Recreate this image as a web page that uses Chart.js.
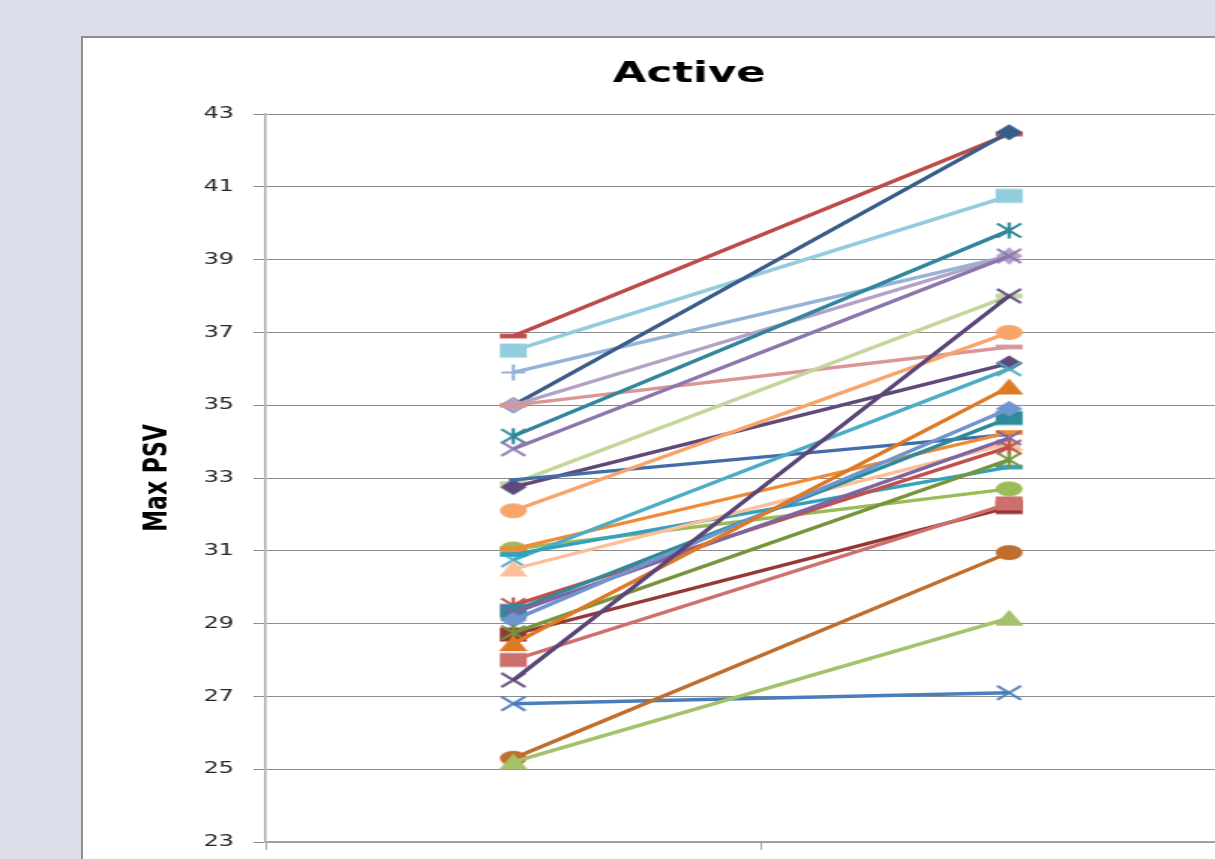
<!DOCTYPE html>
<html>
<head>
<meta charset="utf-8">
<title>Active</title>
<script src="https://cdn.jsdelivr.net/npm/chart.js@4.4.1/dist/chart.umd.min.js"></script>
<style>
  html, body { margin: 0; padding: 0; }
  body { width: 1215px; height: 859px; overflow: hidden; background: #dcdfea; position: relative; }
  #frame { position: absolute; left: 81px; top: 36px; width: 1300px; height: 900px; background: #ffffff;
           border-left: 2px solid #8e8e8e; border-top: 2px solid #8e8e8e; }
  #wrap { position: absolute; left: 84px; top: 39px; width: 807px; height: 830px;
          transform: scaleX(1.5); transform-origin: 0 0; }
</style>
</head>
<body>
<div id="frame"></div>
<div id="wrap"><canvas id="chart" width="807" height="830"></canvas></div>
<script>
// Two measurement occasions, one line per subject
const categories = ['Pre', 'Post'];

const preValues  = [36.9, 36.5, 35.9, 35.0, 35.0, 35.0, 34.15, 33.8, 32.85, 32.75, 32.95, 32.1, 31.05, 31.05, 30.75,
                    30.9, 30.5, 29.5, 29.35, 29.3, 29.1, 28.7, 28.75, 28.45, 28.0, 27.45, 26.8, 25.3, 25.2];
const postValues = [42.45, 40.75, 39.1, 42.5, 39.1, 36.6, 39.8, 39.1, 38.0, 36.15, 34.2, 37.0, 32.7, 34.25, 36.0,
                    33.3, 33.95, 33.85, 34.65, 34.1, 34.9, 32.2, 33.5, 35.5, 32.3, 38.0, 27.1, 30.95, 29.15];

const yTickValues = [23, 25, 27, 29, 31, 33, 35, 37, 39, 41, 43];

// Per-series look
const seriesColors = ['#be4b48', '#93cddd', '#95b3d7', '#385d8a', '#b3a2c7', '#d99694', '#31859c', '#8c76ae',
                      '#c3d69b', '#5f497a', '#426da9', '#f8a56b', '#9bbb59', '#f08a34', '#4bacc6', '#34a0c0',
                      '#fbbf9a', '#c0504d', '#2e8b9a', '#8064a2', '#6e95cd', '#953735', '#77933c', '#dd7a25',
                      '#cd6f6c', '#5b4577', '#4a7ebb', '#bf6e2d', '#a3c26b'];
const seriesMarkers = ['dash', 'square', 'plus', 'diamond', 'diamond', 'dash', 'star', 'x',
                       'dash', 'diamond', 'smalldash', 'circle', 'circle', 'dash', 'x', 'dash',
                       'triangle', 'star', 'square', 'x', 'diamond', 'square', 'star', 'triangle',
                       'square', 'x', 'x', 'circle', 'triangle'];

// Marker bitmaps (the whole chart is widened by the CSS transform)
function makeMarker(shape, color) {
  const w = 22, h = 19;
  const c = document.createElement('canvas');
  c.width = w; c.height = h;
  const g = c.getContext('2d');
  g.translate(w / 2, h / 2);
  g.fillStyle = color;
  g.strokeStyle = color;
  g.lineWidth = 2.2;
  g.lineCap = 'butt';
  switch (shape) {
    case 'circle':
      g.beginPath(); g.ellipse(0, 0, 9, 7.5, 0, 0, Math.PI * 2); g.fill(); break;
    case 'square':
      g.fillRect(-9, -7, 18, 14); break;
    case 'diamond':
      g.beginPath(); g.moveTo(0, -8); g.lineTo(9, 0); g.lineTo(0, 8); g.lineTo(-9, 0); g.closePath(); g.fill(); break;
    case 'triangle':
      g.beginPath(); g.moveTo(0, -8.5); g.lineTo(9.5, 7.5); g.lineTo(-9.5, 7.5); g.closePath(); g.fill(); break;
    case 'x':
      g.beginPath(); g.moveTo(-8, -7); g.lineTo(8, 7); g.moveTo(-8, 7); g.lineTo(8, -7); g.stroke(); break;
    case 'star':
      g.beginPath(); g.moveTo(-8, -7); g.lineTo(8, 7); g.moveTo(-8, 7); g.lineTo(8, -7);
      g.moveTo(0, -8); g.lineTo(0, 8); g.stroke(); break;
    case 'plus':
      g.beginPath(); g.moveTo(-8, 0); g.lineTo(8, 0); g.moveTo(0, -8); g.lineTo(0, 8); g.stroke(); break;
    case 'dash':
      g.fillRect(-9, -2.3, 18, 4.6); break;
    case 'smalldash':
      g.fillRect(-3, -1.5, 6, 3); break;
  }
  return c;
}

const datasets = preValues.map((pre, i) => ({
  label: 'Subject ' + (i + 1),
  data: [pre, postValues[i]],
  borderColor: seriesColors[i],
  backgroundColor: seriesColors[i],
  borderWidth: 3.4,
  pointStyle: makeMarker(seriesMarkers[i], seriesColors[i]),
  pointRadius: 9,
  tension: 0,
  order: -i
}));

new Chart(document.getElementById('chart'), {
  type: 'line',
  data: { labels: categories, datasets },
  options: {
    responsive: false,
    animation: false,
    events: [],
    layout: { padding: { left: 0, right: 0, top: 0, bottom: 19 } },
    plugins: {
      legend: { display: false },
      tooltip: { enabled: false },
      title: {
        display: true,
        text: 'Active',
        color: '#000000',
        font: { family: 'DejaVu Sans', size: 29, weight: 'bold', lineHeight: 1.2 },
        padding: { top: 17.6, bottom: 22.6 }
      }
    },
    scales: {
      x: {
        type: 'category',
        offset: true,
        ticks: { display: false },
        grid: { display: true, offset: true, drawOnChartArea: false, drawTicks: true, tickLength: 8,
                tickColor: '#a6a6a6', tickWidth: 1 },
        border: { display: true, color: '#a6a6a6', width: 1.5 }
      },
      y: {
        min: 23,
        max: 43,
        afterFit: (scale) => { scale.width = 121; },
        afterBuildTicks: (scale) => { scale.ticks = yTickValues.map(v => ({ value: v })); },
        ticks: {
          color: '#262626',
          padding: 13,
          font: { family: 'DejaVu Sans', size: 16 }
        },
        grid: { color: '#8c8c8c', lineWidth: 1, drawTicks: true, tickLength: 8, tickColor: '#8c8c8c' },
        border: { display: true, color: '#b0b0b0', width: 1.6 },
        title: {
          display: true,
          text: 'Max PSV',
          color: '#000000',
          font: { family: 'DejaVu Sans', size: 22, weight: 'bold', lineHeight: 1.2 },
          padding: { top: 36.2, bottom: 0 }
        }
      },
      // empty right-hand strip that keeps the plot area clear of the frame edge
      yRight: {
        position: 'right',
        display: true,
        afterFit: (scale) => { scale.width = 25; },
        ticks: { display: false },
        grid: { display: false, drawTicks: false },
        border: { display: false }
      }
    }
  }
});
</script>
</body>
</html>
